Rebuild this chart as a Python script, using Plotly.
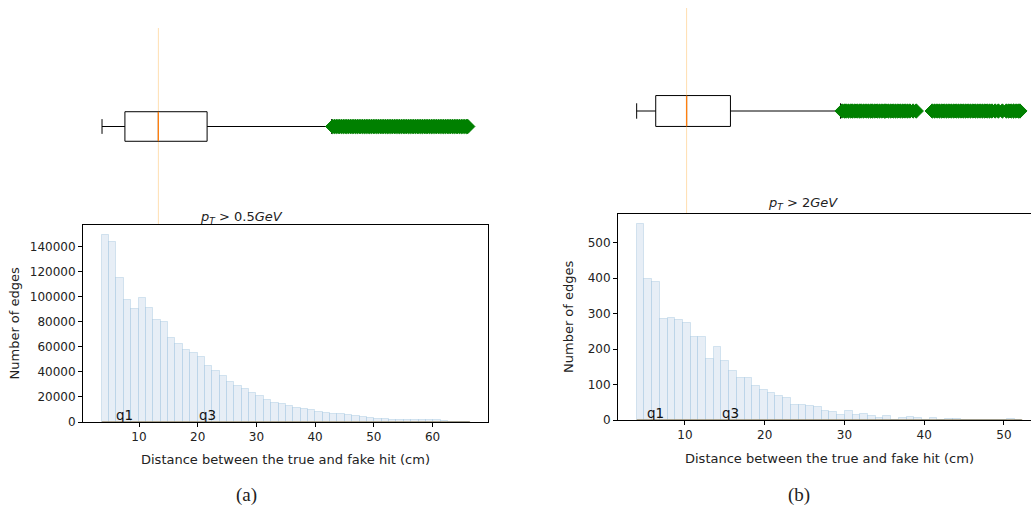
import plotly.graph_objects as go

# ---------------- data ----------------
left_bin_start = 3.65
left_bin_width = 1.255
left_counts = [149300, 143700, 115000, 97500, 90300, 98800, 91100, 81600, 79400, 67200,
               62200, 57400, 55300, 52100, 44600, 40600, 36900, 32100, 29000, 26300,
               23400, 20500, 17300, 15400, 14100, 12500, 11400, 10100, 9300, 8200,
               7400, 6600, 6100, 5300, 4800, 4000, 2900, 2700, 2400, 1900,
               1600, 1900, 1900, 1900, 1900, 1300, 500, 300, 300, 200]

right_bin_start = 3.94
right_bin_width = 0.967
right_counts = [553, 397, 389, 284, 289, 282, 274, 234, 234, 172,
                207, 166, 137, 119, 118, 95, 84, 76, 67, 63,
                43, 43, 40, 38, 24, 23, 15, 24, 15, 18,
                10, 5, 11, 1, 6, 8, 6, 1, 6, 1,
                2, 2, 1, 0, 1, 0, 0, 0, 4, 1]

# box statistics: [lower whisker, q1, median, q3, upper whisker]
left_box = [3.7, 7.6, 13.3, 21.6, 42.8]
right_box = [3.94, 6.33, 10.2, 15.7, 29.5]

left_outliers = [43.0, 43.3, 43.6, 43.9, 44.2, 44.5, 44.8, 45.1, 45.4, 45.7, 46.0, 46.3,
                 46.6, 46.9, 47.2, 47.5, 47.8, 48.1, 48.4, 48.7, 49.0, 49.3, 49.6, 49.9,
                 50.2, 50.5, 50.8, 51.1, 51.4, 51.7, 52.0, 52.3, 52.6, 52.9, 53.2, 53.5,
                 53.8, 54.1, 54.4, 54.7, 55.0, 55.3, 55.6, 55.9, 56.2, 56.5, 56.8, 57.1,
                 57.4, 57.7, 58.0, 58.3, 58.6, 58.9, 59.2, 59.5, 59.8, 60.1, 60.4, 60.7,
                 61.0, 61.3, 61.6, 61.9, 62.2, 62.5, 62.8, 63.1, 63.4, 63.7, 64.0, 64.3,
                 64.6, 64.9, 65.2, 65.5, 65.8, 66.0]
right_outliers = [29.7, 30.0, 30.2, 30.5, 30.8, 31.0, 31.3, 31.6, 31.9, 32.1, 32.4, 32.7,
                  33.0, 33.3, 33.5, 33.8, 34.1, 34.4, 34.7, 35.0, 35.2, 35.5, 35.8, 36.1,
                  36.4, 36.7, 37.0, 37.3, 37.6, 37.9, 38.2, 38.6, 39.0,
                  41.0, 41.3, 41.6, 41.9, 42.2, 42.5, 42.8, 43.1, 43.4, 43.7, 44.0, 44.3,
                  44.6, 44.9, 45.2, 45.5, 45.8, 46.1, 46.4, 46.7, 47.0, 47.3, 47.6, 47.9,
                  48.2, 48.5, 48.9, 49.3, 49.8, 50.3, 50.6, 50.9, 51.2, 51.5, 51.8, 52.0]

left_title = "<i>p</i><sub><i>T</i></sub> > 0.5<i>GeV</i>"
right_title = "<i>p</i><sub><i>T</i></sub> > 2<i>GeV</i>"
x_label = "Distance between the true and fake hit (cm)"
y_label = "Number of edges"
left_xticks = [10, 20, 30, 40, 50, 60]
left_yticks = [0, 20000, 40000, 60000, 80000, 100000, 120000, 140000]
right_xticks = [10, 20, 30, 40, 50]
right_yticks = [0, 100, 200, 300, 400, 500]

# ---------------- figure ----------------
W, H = 1031, 512
def px(x): return x / W
def py(y): return 1 - y / H

BAR_FILL = "#e7eef6"
BAR_EDGE = "rgba(31,119,180,0.16)"
FONT = "DejaVu Sans"
TXT = "#222222"

fig = go.Figure()

def add_panel(counts, start, width, box, outliers, xa, ya, xb, yb):
    centers = [start + (i + 0.5) * width for i in range(len(counts))]
    fig.add_trace(go.Bar(x=centers, y=counts, width=width, xaxis=xa, yaxis=ya,
                         marker=dict(color=BAR_FILL, line=dict(color=BAR_EDGE, width=1)),
                         showlegend=False, hoverinfo="skip"))
    lo, q1, med, q3, hi = box
    fig.add_trace(go.Box(orientation="h", y=[0], q1=[q1], median=[med], q3=[q3],
                         lowerfence=[lo], upperfence=[hi], boxpoints=False,
                         width=0.3, whiskerwidth=0.5, fillcolor="rgba(255,255,255,0)",
                         line=dict(color="black", width=1), xaxis=xb, yaxis=yb,
                         showlegend=False, hoverinfo="skip"))
    fig.add_trace(go.Scatter(x=outliers, y=[0] * len(outliers), mode="markers",
                             marker=dict(symbol="diamond", size=11, color="#008000",
                                         line=dict(color="#008000", width=1)),
                             xaxis=xb, yaxis=yb, showlegend=False, hoverinfo="skip"))
    fig.add_trace(go.Scatter(x=[med, med], y=[-0.15, 0.15], mode="lines",
                             line=dict(color="#ff7f0e", width=1.3),
                             xaxis=xb, yaxis=yb, showlegend=False, hoverinfo="skip"))
    # pale median line across box axes
    fig.add_shape(type="line", xref=xb, yref=yb + " domain", x0=med, x1=med, y0=0, y1=1,
                  line=dict(color="rgba(255,175,60,0.4)", width=1), layer="below")
    # baseline over data range
    end = start + width * len(counts)
    fig.add_shape(type="line", xref=xa, yref=ya, x0=start, x1=end, y0=0, y1=0,
                  line=dict(color="rgba(120,85,25,0.9)", width=1), layer="above")
    for lab, v in (("q1", q1), ("q3", q3)):
        fig.add_annotation(x=v, y=0, xref=xa, yref=ya, text=lab, showarrow=False,
                           xanchor="center", yanchor="bottom", yshift=-3,
                           font=dict(family=FONT, size=13.5, color="#111"))

add_panel(left_counts, left_bin_start, left_bin_width, left_box, left_outliers,
          "x", "y", "x3", "y3")
add_panel(right_counts, right_bin_start, right_bin_width, right_box, right_outliers,
          "x2", "y2", "x4", "y4")

tickfont = dict(family=FONT, size=12, color=TXT)
axis_common = dict(showgrid=False, zeroline=False, ticks="outside", ticklen=4,
                   tickwidth=1, tickcolor="black", tickfont=tickfont,
                   linecolor="black", linewidth=1, automargin=False)
hidden = dict(visible=False, showgrid=False, zeroline=False, automargin=False)

left_xrange = [0.46, 69.45]
right_xrange = [1.60, 53.39]

fig.update_layout(
    width=W, height=H, autosize=False,
    margin=dict(l=0, r=0, t=0, b=0, pad=0, autoexpand=False),
    plot_bgcolor="rgba(0,0,0,0)", paper_bgcolor="white", bargap=0,
    xaxis=dict(domain=[px(83), px(488)], range=left_xrange, tickvals=left_xticks,
               showline=True, mirror=True, anchor="y", **axis_common),
    yaxis=dict(domain=[py(422), py(225)], range=[0, 157000], tickvals=left_yticks,
               tickformat="d", showline=True, mirror=True, anchor="x", **axis_common),
    xaxis2=dict(domain=[px(618), 1.0], range=right_xrange, tickvals=right_xticks,
                showline=True, mirror=True, anchor="y2", **axis_common),
    yaxis2=dict(domain=[py(420), py(214)], range=[0, 581], tickvals=right_yticks,
                tickformat="d", showline=True, mirror=False, anchor="x2", **axis_common),
    xaxis3=dict(domain=[px(83), px(488)], range=left_xrange, anchor="y3", **hidden),
    yaxis3=dict(domain=[py(225), py(28)], range=[-1, 1], anchor="x3", **hidden),
    xaxis4=dict(domain=[px(618), 1.0], range=right_xrange, anchor="y4", **hidden),
    yaxis4=dict(domain=[py(214), py(8)], range=[-1, 1], anchor="x4", **hidden),
)

def note(text, x, y, size, family=FONT, angle=0):
    fig.add_annotation(x=px(x), y=py(y), xref="paper", yref="paper", text=text,
                       showarrow=False, xanchor="center", yanchor="middle",
                       textangle=angle, font=dict(family=family, size=size, color=TXT))

note(left_title, 241.5, 217, 13)
note(right_title, 803, 203, 13)
note(x_label, 285.5, 459, 13)
note(x_label, 829, 458, 13)
note(y_label, 14, 323.5, 13, angle=-90)
note(y_label, 568, 317, 13, angle=-90)
note("(a)", 246.5, 495, 19, family="Liberation Serif")
note("(b)", 798.5, 495, 19, family="Liberation Serif")

fig.write_html("out.html")
